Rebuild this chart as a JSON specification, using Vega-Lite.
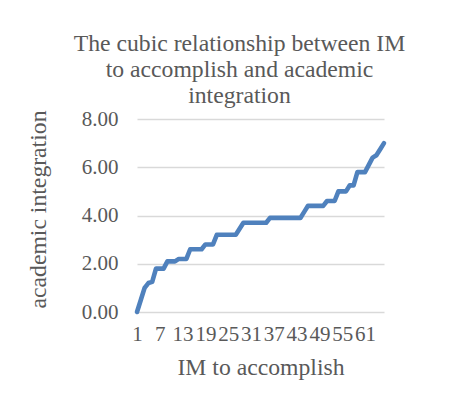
{
  "$schema": "https://vega.github.io/schema/vega-lite/v6.json",
  "autosize": "none",
  "padding": {"left": 137, "top": 119, "right": 80, "bottom": 96},
  "width": 247,
  "height": 193,
  "background": "white",
  "title": {
    "text": ["The cubic relationship between IM", "to accomplish and academic", "integration"],
    "font": "Liberation Serif",
    "fontSize": 23.7,
    "fontWeight": "normal",
    "color": "#595959",
    "lineHeight": 26,
    "anchor": "middle",
    "dx": -21,
    "offset": 0
  },
  "data": {
    "values": [
      {"IM": 1, "AI": 0}, {"IM": 2, "AI": 0.5}, {"IM": 3, "AI": 1.0}, {"IM": 4, "AI": 1.2},
      {"IM": 5, "AI": 1.25}, {"IM": 6, "AI": 1.8}, {"IM": 7, "AI": 1.8}, {"IM": 8, "AI": 1.8},
      {"IM": 9, "AI": 2.1}, {"IM": 10, "AI": 2.1}, {"IM": 11, "AI": 2.1}, {"IM": 12, "AI": 2.2},
      {"IM": 13, "AI": 2.2}, {"IM": 14, "AI": 2.2}, {"IM": 15, "AI": 2.6}, {"IM": 16, "AI": 2.6},
      {"IM": 17, "AI": 2.6}, {"IM": 18, "AI": 2.6}, {"IM": 19, "AI": 2.8}, {"IM": 20, "AI": 2.8},
      {"IM": 21, "AI": 2.8}, {"IM": 22, "AI": 3.2}, {"IM": 23, "AI": 3.2}, {"IM": 24, "AI": 3.2},
      {"IM": 25, "AI": 3.2}, {"IM": 26, "AI": 3.2}, {"IM": 27, "AI": 3.2}, {"IM": 28, "AI": 3.45},
      {"IM": 29, "AI": 3.7}, {"IM": 30, "AI": 3.7}, {"IM": 31, "AI": 3.7}, {"IM": 32, "AI": 3.7},
      {"IM": 33, "AI": 3.7}, {"IM": 34, "AI": 3.7}, {"IM": 35, "AI": 3.7}, {"IM": 36, "AI": 3.9},
      {"IM": 37, "AI": 3.9}, {"IM": 38, "AI": 3.9}, {"IM": 39, "AI": 3.9}, {"IM": 40, "AI": 3.9},
      {"IM": 41, "AI": 3.9}, {"IM": 42, "AI": 3.9}, {"IM": 43, "AI": 3.9}, {"IM": 44, "AI": 3.9},
      {"IM": 45, "AI": 4.15}, {"IM": 46, "AI": 4.4}, {"IM": 47, "AI": 4.4}, {"IM": 48, "AI": 4.4},
      {"IM": 49, "AI": 4.4}, {"IM": 50, "AI": 4.4}, {"IM": 51, "AI": 4.6}, {"IM": 52, "AI": 4.6},
      {"IM": 53, "AI": 4.6}, {"IM": 54, "AI": 5.0}, {"IM": 55, "AI": 5.0}, {"IM": 56, "AI": 5.0},
      {"IM": 57, "AI": 5.25}, {"IM": 58, "AI": 5.25}, {"IM": 59, "AI": 5.8}, {"IM": 60, "AI": 5.8},
      {"IM": 61, "AI": 5.8}, {"IM": 62, "AI": 6.1}, {"IM": 63, "AI": 6.4}, {"IM": 64, "AI": 6.5},
      {"IM": 65, "AI": 6.75}, {"IM": 66, "AI": 7.0}
    ]
  },
  "mark": {"type": "line", "color": "#4f81bd", "strokeWidth": 4.6, "strokeCap": "round", "strokeJoin": "round", "clip": false},
  "encoding": {
    "x": {
      "field": "IM",
      "type": "quantitative",
      "scale": {"domain": [1, 66], "nice": false, "zero": false},
      "axis": {
        "title": "IM to accomplish",
        "values": [1, 7, 13, 19, 25, 31, 37, 43, 49, 55, 61],
        "grid": false,
        "domain": false,
        "ticks": false,
        "labelFont": "Liberation Serif",
        "labelFontSize": 21,
        "labelColor": "#595959",
        "labelPadding": 11,
        "labelOverlap": false,
        "labelFlush": false,
        "titleFont": "Liberation Serif",
        "titleFontSize": 23.7,
        "titleFontWeight": "normal",
        "titleColor": "#595959",
        "titlePadding": 11
      }
    },
    "y": {
      "field": "AI",
      "type": "quantitative",
      "scale": {"domain": [0, 8], "nice": false},
      "axis": {
        "title": "academic integration",
        "values": [0, 2, 4, 6, 8],
        "format": ".2f",
        "grid": true,
        "gridColor": "#d9d9d9",
        "gridWidth": 1.3,
        "domain": false,
        "ticks": false,
        "labelFont": "Liberation Serif",
        "labelFontSize": 21,
        "labelColor": "#595959",
        "labelPadding": 19,
        "titleFont": "Liberation Serif",
        "titleFontSize": 23.7,
        "titleFontWeight": "normal",
        "titleColor": "#595959",
        "titlePadding": 31,
        "titleY": 90
      }
    }
  },
  "config": {"view": {"stroke": null}}
}
